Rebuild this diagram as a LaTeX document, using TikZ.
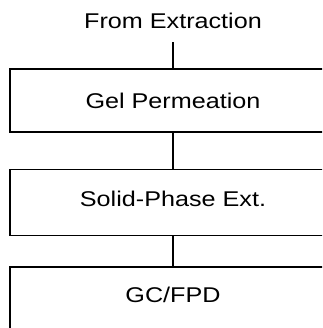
\documentclass[tikz,border=0pt]{standalone}
\usepackage{fontspec}
\setmainfont[FakeStretch=1.18]{Liberation Sans}
\tikzset{every picture/.style={line width=1.4pt}}
\tikzset{stagebox/.style={draw, rectangle, minimum width=326*0.75pt, inner sep=0pt},
	stagetext/.style={anchor=base, inner sep=0pt, font=\fontsize{16}{19}\selectfont}}

\begin{document}
\begin{tikzpicture}[x=0.75pt,y=0.75pt,yscale=-1,xscale=1]
	\useasboundingbox (0,0) rectangle (322,328);
	\clip (0,0) rectangle (322,328);

	% Text Node
	\node [stagetext, inner ysep=9.4pt] (src) at (173,28.5) {From Extraction};

	%Shape: Rectangle
	\node [stagebox, minimum height=63*0.75pt] (gel) at (173,100.5) {};
	%Shape: Rectangle
	\node [stagebox, minimum height=66*0.75pt] (spe) at (173,202.5) {};
	%Shape: Rectangle
	\node [stagebox, minimum height=70*0.75pt] (gc) at (173,302) {};

	% Text Node
	\node [stagetext] (gellbl) at (173,108.3) {Gel Permeation};
	% Text Node
	\node [stagetext] (spelbl) at (173,206) {Solid-Phase Ext.};
	% Text Node
	\node [stagetext] (gclbl) at (173,302.7) {GC/FPD};

	%Straight Lines
	\draw (src) -- (gel);
	%Straight Lines
	\draw (gel) -- (spe);
	%Straight Lines
	\draw (spe) -- (gc);

\end{tikzpicture}
\end{document}
